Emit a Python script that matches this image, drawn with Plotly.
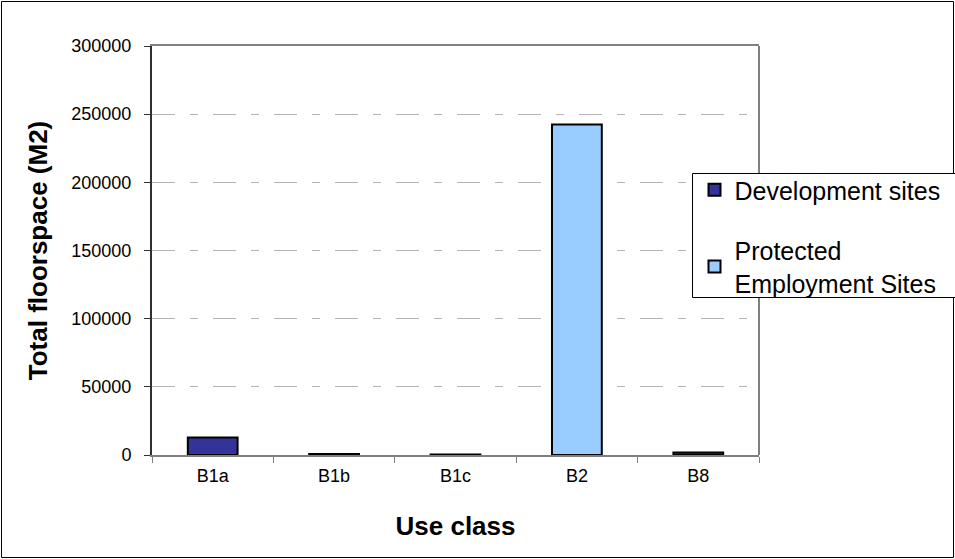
import plotly.graph_objects as go

categories = ["B1a", "B1b", "B1c", "B2", "B8"]
development_sites = [12800, 700, 400, None, 1800]
protected_sites = [None, None, None, 242500, None]
y_ticks = [0, 50000, 100000, 150000, 200000, 250000, 300000]

W, H = 955, 559
ML, MR, MT, MB = 152, 196, 46, 104
FONT = "Arial, Liberation Sans, sans-serif"

fig = go.Figure()
fig.add_trace(go.Bar(
    x=categories, y=development_sites, name="Development sites",
    marker=dict(color="#333399", line=dict(color="#000000", width=2)),
    width=0.41, legendgroup="a",
))
fig.add_trace(go.Bar(
    x=categories, y=protected_sites, name="Protected<br>Employment Sites",
    marker=dict(color="#99CCFF", line=dict(color="#000000", width=2)),
    width=0.41, legendgroup="b",
))

pw = W - ML - MR
ph = H - MT - MB


def px_x(px):
    return (px - ML) / pw


def px_y(py):
    return (H - MB - py) / ph


shapes = [
    # outer chart border
    dict(type="rect", xref="paper", yref="paper",
         x0=px_x(1.5), x1=px_x(953.5), y0=px_y(557.5), y1=px_y(1.5),
         line=dict(color="#000000", width=1), layer="below"),
    # right border of plot area
    dict(type="line", xref="paper", yref="paper", x0=1, x1=1, y0=0, y1=1,
         line=dict(color="#808080", width=2)),
    # legend box
    dict(type="rect", xref="paper", yref="paper",
         x0=px_x(692.5), x1=px_x(975), y0=px_y(297.5), y1=px_y(173.5),
         line=dict(color="#000000", width=1), fillcolor="white"),
]

fig.update_layout(
    width=W, height=H,
    margin=dict(l=ML, r=MR, t=MT, b=MB, autoexpand=False),
    paper_bgcolor="white", plot_bgcolor="white",
    barmode="overlay",
    font=dict(family=FONT, color="#000000", size=18),
    showlegend=True,
    legend=dict(
        x=px_x(694.5), y=px_y(167), xanchor="left", yanchor="top",
        borderwidth=0, bgcolor="rgba(0,0,0,0)",
        font=dict(family=FONT, size=25, color="#000000"),
        traceorder="grouped", tracegroupgap=25,
        itemsizing="constant",
    ),
    shapes=shapes,
    xaxis=dict(
        type="category", categoryorder="array", categoryarray=categories,
        showline=True, linecolor="#808080", linewidth=2, mirror=True,
        ticks="outside", tickson="boundaries", ticklen=6, tickcolor="#808080",
        tickfont=dict(size=18), ticklabelstandoff=3,
        showgrid=False, automargin=False,
        title=dict(text="<b>Use class</b>", font=dict(size=26), standoff=32),
    ),
    yaxis=dict(
        range=[0, 300000], tickvals=y_ticks, ticktext=[str(v) for v in y_ticks],
        showline=True, linecolor="#303030", linewidth=2,
        ticks="outside", ticklen=6, tickcolor="#303030",
        tickfont=dict(size=18), ticklabelstandoff=9,
        showgrid=True, gridcolor="#b4b4b4", gridwidth=1,
        griddash="23px,15px,8px,15px",
        zeroline=False, automargin=False,
        title=dict(text="<b>Total floorspace (M2)</b>", font=dict(size=26), standoff=16),
    ),
)

fig.write_html("out.html", config={"displayModeBar": False},
               post_script="document.body.style.margin='0px';")
